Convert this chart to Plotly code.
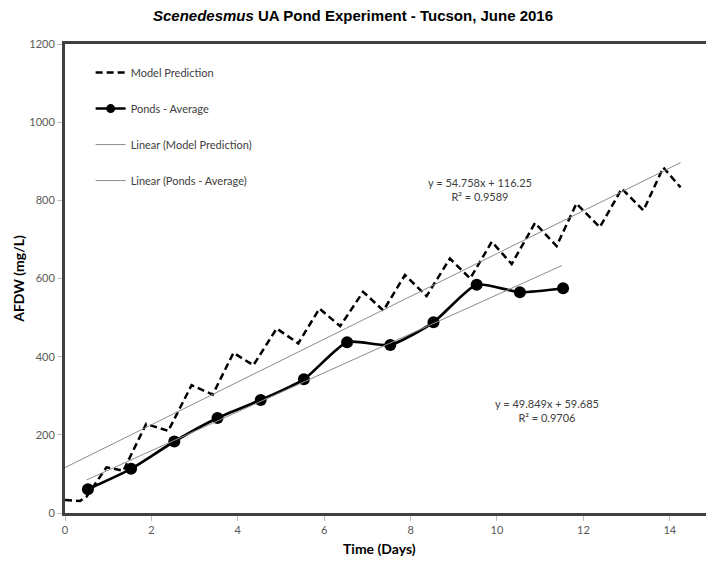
import plotly.graph_objects as go
import numpy as np

# Model prediction (dashed sawtooth)
model_x = [0, 0.35, 0.5, 0.96, 1.35, 1.88, 2.39, 2.93, 3.42, 3.9, 4.36, 4.9, 5.4, 5.89, 6.37,
           6.9, 7.37, 7.87, 8.37, 8.91, 9.38, 9.88, 10.34, 10.88, 11.38, 11.84, 12.38, 12.89,
           13.39, 13.85, 14.25]
model_y = [33, 31, 42, 117, 108, 228, 210, 327, 303, 410, 378, 472, 434, 523, 478,
           566, 518, 609, 555, 651, 600, 694, 637, 742, 683, 792, 731, 830,
           774, 884, 833]

# Ponds average
ponds_x = [0.53, 1.53, 2.53, 3.53, 4.53, 5.53, 6.53, 7.53, 8.53, 9.53, 10.53, 11.53]
ponds_y = [61, 113, 183, 243, 289, 342, 437, 430, 488, 584, 565, 575]

# Linear trendline coefficients (slope, intercept) and R²
model_fit = (54.758, 116.25, 0.9589)
ponds_fit = (49.849, 59.685, 0.9706)

x_ticks = [0, 2, 4, 6, 8, 10, 12, 14]
y_ticks = [0, 200, 400, 600, 800, 1000, 1200]

tick_font = dict(family="Lato, Open Sans, sans-serif", size=11, color="#595959")
label_font = dict(family="Lato, Open Sans, sans-serif", size=11, color="#404040")
axis_title_font = dict(family="Lato, Open Sans, sans-serif", size=14, color="black", weight="bold")

fig = go.Figure()

fig.add_trace(go.Scatter(
    x=model_x, y=model_y, mode="lines", name="Model Prediction",
    line=dict(color="black", width=2.5, dash="7px,4px"), legendgroup="a"))
fig.add_trace(go.Scatter(
    x=ponds_x, y=ponds_y, mode="lines+markers", name="Ponds - Average",
    line=dict(color="black", width=2.7, shape="spline", smoothing=0.6),
    marker=dict(color="black", size=12), legendgroup="b", showlegend=False))
# legend entry for the ponds series (smaller marker, like the original legend)
fig.add_trace(go.Scatter(
    x=[None], y=[None], mode="lines+markers", name="Ponds - Average",
    line=dict(color="black", width=2.5), marker=dict(color="black", size=9), legendgroup="b"))

mx = np.array([model_x[0], model_x[-1]])
fig.add_trace(go.Scatter(
    x=mx, y=model_fit[0] * mx + model_fit[1], mode="lines",
    name="Linear (Model Prediction)", line=dict(color="#8c8c8c", width=1), legendgroup="c"))
px = np.array([0.5, 11.5])
fig.add_trace(go.Scatter(
    x=px, y=ponds_fit[0] * px + ponds_fit[1], mode="lines",
    name="Linear (Ponds - Average)", line=dict(color="#8c8c8c", width=1), legendgroup="d"))

fig.add_annotation(x=9.6, y=829, xref="x", yref="y", showarrow=False,
                   text=f"y = {model_fit[0]}x + {model_fit[1]}<br>R² = {model_fit[2]}",
                   font=label_font, align="center")
fig.add_annotation(x=11.16, y=261, xref="x", yref="y", showarrow=False,
                   text=f"y = {ponds_fit[0]}x + {ponds_fit[1]}<br>R² = {ponds_fit[2]}",
                   font=label_font, align="center")
# x-axis title, centred on the visible part of the plot
fig.add_annotation(x=(379 - 65) / 651, y=-35, xref="paper", yref="y domain", yshift=0,
                   showarrow=False, text="Time (Days)", font=axis_title_font)

fig.update_layout(
    width=716, height=567,
    margin=dict(l=65, r=0, t=44, b=54),
    paper_bgcolor="white", plot_bgcolor="white",
    title=dict(text="<b><i>Scenedesmus</i> UA Pond Experiment - Tucson, June 2016</b>",
               x=(353 - 65) / (716 - 65), xref="paper", xanchor="center", y=0.973, yanchor="middle",
               font=dict(family="Liberation Sans, Arial, sans-serif", size=15, color="black")),
    showlegend=True,
    legend=dict(x=0.04 * 641 / 651, y=0.97, xanchor="left", yanchor="top",
                bgcolor="rgba(0,0,0,0)", font=dict(family="Lato, Open Sans, sans-serif", size=11, color="#404040"),
                tracegroupgap=17, itemwidth=30),
    xaxis=dict(range=[0, 15.07], tickvals=x_ticks, ticktext=[str(v) for v in x_ticks],
               showgrid=False, zeroline=False, showline=True, linecolor="#404040", linewidth=3,
               mirror=True, ticks="outside", ticklen=5, tickcolor="#bfbfbf", tickwidth=1,
               tickfont=tick_font, automargin=False),
    yaxis=dict(range=[0, 1200], tickvals=y_ticks, ticktext=[str(v) for v in y_ticks],
               showgrid=False, zeroline=False, showline=True, linecolor="#404040", linewidth=3,
               ticks="outside", ticklen=5, tickcolor="#bfbfbf", tickwidth=1,
               tickfont=tick_font, automargin=False,
               title=dict(text="AFDW (mg/L)", standoff=2, font=axis_title_font)),
)
# place the x title annotation in pixels below the axis
fig.layout.annotations[-1].update(yref="paper", y=0, yanchor="middle", yshift=-35)

fig.write_html("out.html", config={"displayModeBar": False},
               post_script="document.body.style.margin='0';document.documentElement.style.overflow='hidden';document.body.style.overflow='hidden';")
